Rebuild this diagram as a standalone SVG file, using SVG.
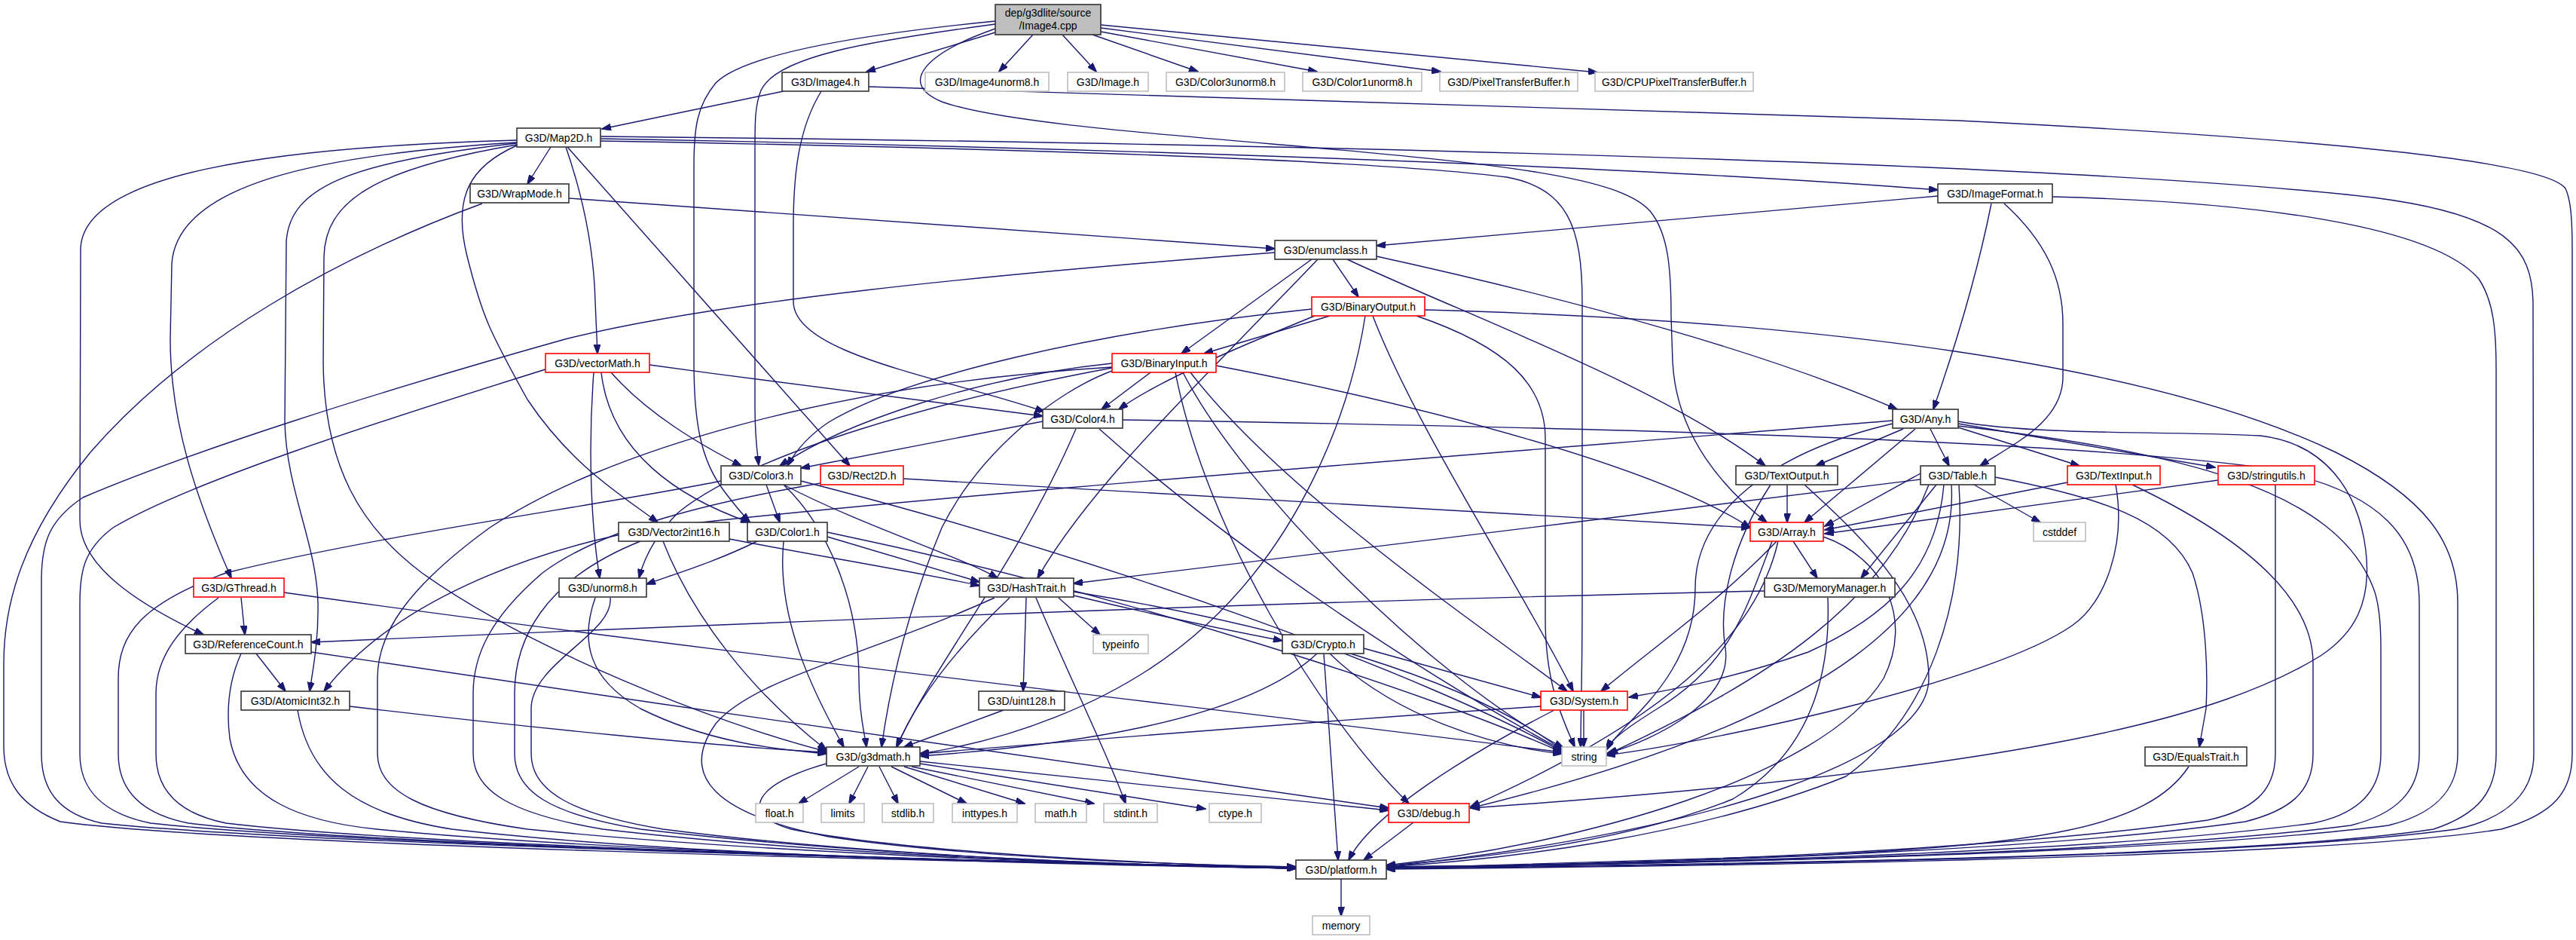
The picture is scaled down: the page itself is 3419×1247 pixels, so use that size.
<svg xmlns="http://www.w3.org/2000/svg" width="3419" height="1247" viewBox="0 0 3419 1247">
<defs>
<marker id="a" markerWidth="13" markerHeight="9" refX="12" refY="4.5" orient="auto" markerUnits="userSpaceOnUse">
<path d="M0,0 L13,4.5 L0,9 z" fill="#191970" stroke="#191970" stroke-width="1"/>
</marker>
<style>
.b{fill:#fff;stroke:#333;stroke-width:1.6}
.r{fill:#fff;stroke:#ff0000;stroke-width:1.6}
.g{fill:#fff;stroke:#bfbfbf;stroke-width:1.6}
.root{fill:#bfbfbf;stroke:#333;stroke-width:1.6}
text{font-family:"Liberation Sans",Arial,sans-serif;font-size:14px;fill:#000;text-anchor:middle}
#edges path{fill:none;stroke:#191970;stroke-width:1.4;marker-end:url(#a)}
</style>
</defs>
<rect width="3419" height="1247" fill="#fff"/>
<g id="edges">
<path d="M1321,43 L1150,95"/>
<path d="M1371,46 L1326,95"/>
<path d="M1410,46 L1455,95"/>
<path d="M1450,46 L1590,95"/>
<path d="M1461,42 L1748,95"/>
<path d="M1461,37 L1912,95"/>
<path d="M1461,33 L2120,96"/>
<path d="M1321,32 C1150,55 1030,75 1010,120 C1002,140 1002,160 1002,200 L1002,540 C1002,580 1005,600 1007,617"/>
<path d="M1321,28 C1150,45 990,70 950,110 C925,140 921,170 921,220 L921,480 C921,560 930,610 960,650 C975,670 985,682 995,692"/>
<path d="M1321,38 C1230,70 1190,110 1250,135 C1320,160 1500,175 1700,192 C2000,218 2150,235 2190,280 C2215,310 2218,360 2218,420 L2220,480 C2225,580 2290,650 2345,693"/>
<path d="M1040,121 L799,171"/>
<path d="M1090,121 C1060,170 1053,230 1053,300 L1053,400 C1053,470 1250,500 1386,546"/>
<path d="M1153,115 C1400,125 2000,140 2600,160 C3100,185 3380,215 3405,250 C3412,265 3414,290 3414,330 L3414,1000 C3414,1050 3390,1080 3320,1100 C3100,1135 2400,1148 1840,1153"/>
<path d="M731,195 L700,244"/>
<path d="M751,195 C770,250 788,320 790,400 L793,469"/>
<path d="M753,195 L1128,618"/>
<path d="M686,193 C625,220 600,260 620,340 C640,420 650,440 700,530 C760,620 830,660 873,693"/>
<path d="M686,189 C420,205 235,245 228,350 L226,450 C226,560 260,660 307,767"/>
<path d="M686,186 C360,195 110,230 107,330 L106,690 C106,750 180,800 270,842"/>
<path d="M686,190 C460,215 385,250 380,320 L378,560 C380,650 420,720 422,800 C423,850 415,890 411,917"/>
<path d="M686,192 C490,225 432,270 430,340 L429,480 C430,620 480,700 560,760 C700,860 950,960 1097,997"/>
<path d="M797,184 C1300,193 2100,215 2572,252"/>
<path d="M797,181 C1500,188 2700,210 3150,262 C3330,285 3360,330 3362,400 L3363,1000 C3363,1050 3330,1085 3260,1100 C3000,1135 2400,1147 1840,1152"/>
<path d="M797,187 C1300,196 1800,210 2000,235 C2080,250 2100,300 2100,400 L2100,800 C2100,900 2098,950 2098,991"/>
<path d="M755,263 L1692,330"/>
<path d="M640,270 C450,340 250,450 120,600 C30,710 5,800 5,880 L5,990 C5,1040 30,1070 80,1090 C300,1120 1200,1143 1720,1150"/>
<path d="M2572,260 L1827,326"/>
<path d="M2643,270 C2625,360 2595,460 2566,543"/>
<path d="M2660,270 C2715,320 2738,370 2738,430 L2738,500 C2738,560 2670,590 2628,618"/>
<path d="M2724,261 C3000,268 3230,300 3290,370 C3310,400 3313,440 3313,490 L3313,1000 C3313,1050 3290,1080 3230,1100 C3000,1135 2400,1146 1840,1151"/>
<path d="M1741,344 L1568,469"/>
<path d="M1749,344 C1600,500 1450,640 1377,767"/>
<path d="M1769,344 L1803,394"/>
<path d="M1788,344 C1950,420 2200,510 2343,618"/>
<path d="M1827,340 C2100,400 2350,470 2518,543"/>
<path d="M1692,335 C1300,365 950,400 750,450 C500,520 250,600 110,660 C65,690 55,720 55,770 L55,1000 C55,1050 80,1080 135,1092 C400,1120 1300,1142 1720,1152"/>
<path d="M1765,419 L1598,469"/>
<path d="M1745,419 C1620,470 1530,510 1485,543"/>
<path d="M1741,410 C1450,440 1200,500 1100,560 C1070,580 1055,600 1045,618"/>
<path d="M1812,419 C1790,560 1720,720 1600,830 C1480,940 1320,985 1221,1000"/>
<path d="M1822,419 C1880,570 2020,780 2088,917"/>
<path d="M1880,419 C2000,460 2050,510 2051,580 L2051,820 C2051,910 2075,955 2090,991"/>
<path d="M1891,411 C2400,425 2850,480 3100,600 C3220,660 3262,720 3262,800 L3262,1000 C3262,1050 3230,1080 3170,1095 C2900,1130 2300,1146 1840,1150"/>
<path d="M1527,494 L1462,543"/>
<path d="M1476,482 C1300,500 1120,560 1035,618"/>
<path d="M1476,488 C1250,530 1000,600 900,680 C870,710 855,740 848,767"/>
<path d="M1476,492 C1400,520 1300,600 1250,700 C1200,820 1180,920 1170,991"/>
<path d="M1614,485 C1900,540 2200,620 2323,700"/>
<path d="M1580,494 C1700,650 1950,820 2080,917"/>
<path d="M1570,494 C1650,650 1900,900 2075,992"/>
<path d="M1560,494 C1600,700 1750,950 1870,1066"/>
<path d="M1476,487 C1100,510 800,600 650,700 C540,780 501,840 501,900 L501,1000 C501,1050 560,1080 700,1100 C1000,1130 1400,1145 1720,1152"/>
<path d="M1384,559 L1063,621"/>
<path d="M1428,569 C1350,750 1240,880 1190,991"/>
<path d="M1459,569 C1650,740 1900,900 2073,995"/>
<path d="M1490,557 C2000,565 2700,580 3000,620 C3170,650 3211,720 3211,800 L3211,1000 C3211,1050 3180,1080 3120,1095 C2850,1130 2300,1146 1840,1150"/>
<path d="M2526,569 L2410,618"/>
<path d="M2542,569 L2395,693"/>
<path d="M2562,569 L2587,618"/>
<path d="M2599,567 L2760,618"/>
<path d="M2599,562 L2940,620"/>
<path d="M2599,565 C2900,600 3100,650 3150,780 C3158,800 3160,830 3160,860 L3160,1000 C3160,1050 3130,1080 3070,1092 C2800,1128 2300,1146 1840,1150"/>
<path d="M2599,559 C2700,578 2900,572 3000,578 C3085,588 3130,650 3140,730 C3148,800 3125,840 3080,870 C2950,950 2700,1020 1952,1072"/>
<path d="M2512,562 C2350,600 2250,680 2250,780 C2250,900 2150,960 2132,995"/>
<path d="M2512,558 C2000,600 1200,660 870,700 C700,730 520,800 430,917"/>
<path d="M2549,636 C2200,680 1700,740 1425,774"/>
<path d="M2549,628 L2422,698"/>
<path d="M2570,643 L2470,767"/>
<path d="M2620,643 L2708,693"/>
<path d="M2648,633 C2790,660 2880,690 2910,760 C2930,820 2930,900 2928,940 L2919,991"/>
<path d="M2580,643 C2570,760 2500,820 2400,865 C2300,900 2220,915 2162,925"/>
<path d="M2560,643 C2500,800 2350,900 2135,1000"/>
<path d="M2590,643 C2600,800 2450,950 1952,1072"/>
<path d="M2600,643 C2610,800 2560,950 2450,1030 C2250,1110 2000,1140 1840,1150"/>
<path d="M2372,643 L2372,693"/>
<path d="M2350,643 C2300,720 2280,800 2290,860 C2300,930 2200,980 2132,1000"/>
<path d="M2395,643 C2480,720 2560,800 2560,900 C2560,1000 2300,1100 1840,1150"/>
<path d="M2744,640 L2422,703"/>
<path d="M2808,643 C2822,720 2795,800 2750,830 C2650,900 2300,980 2132,1002"/>
<path d="M2830,643 C2950,700 3070,780 3070,880 L3070,1000 C3070,1050 3040,1075 2980,1090 C2700,1130 2200,1146 1840,1151"/>
<path d="M2944,637 L2422,708"/>
<path d="M3020,643 L3020,1000 C3020,1050 2990,1075 2930,1088 C2650,1128 2200,1146 1840,1151"/>
<path d="M2380,718 L2412,767"/>
<path d="M2358,718 C2280,800 2180,870 2125,917"/>
<path d="M2352,718 C2320,800 2300,880 2200,940 C2160,965 2140,980 2132,993"/>
<path d="M2360,718 C2330,850 2200,960 1952,1070"/>
<path d="M2420,712 C2500,740 2540,820 2500,900 C2420,1030 2100,1120 1840,1148"/>
<path d="M2342,784 C1600,800 800,835 413,852"/>
<path d="M2426,793 C2430,900 2400,1000 2300,1060 C2150,1120 1950,1140 1840,1148"/>
<path d="M1425,790 C1550,820 1650,840 1702,850"/>
<path d="M1405,793 L1460,842"/>
<path d="M1362,793 L1358,917"/>
<path d="M1340,793 C1280,850 1220,920 1190,991"/>
<path d="M1375,793 C1420,900 1470,1000 1494,1066"/>
<path d="M1320,793 C1150,870 1000,900 950,960 C900,1030 950,1080 1100,1110 C1300,1140 1600,1148 1720,1150"/>
<path d="M1425,785 C1700,830 1950,900 2073,995"/>
<path d="M1810,860 L2045,925"/>
<path d="M1765,867 C1850,950 1980,990 2073,1000"/>
<path d="M1748,867 C1650,960 1400,990 1221,1003"/>
<path d="M1757,867 L1776,1141"/>
<path d="M1332,942 L1200,991"/>
<path d="M2045,937 C1700,960 1400,985 1221,1000"/>
<path d="M2102,942 L2102,991"/>
<path d="M2063,942 C1950,1000 1820,1080 1790,1141"/>
<path d="M1140,1017 L1060,1066"/>
<path d="M1152,1017 L1127,1066"/>
<path d="M1167,1017 L1192,1066"/>
<path d="M1183,1017 L1283,1066"/>
<path d="M1200,1017 L1360,1066"/>
<path d="M1210,1017 L1452,1066"/>
<path d="M1221,1013 L1600,1073"/>
<path d="M1221,1010 C1500,1040 1700,1060 1843,1075"/>
<path d="M1097,1013 C1000,1040 980,1080 1050,1100 C1200,1130 1500,1145 1720,1151"/>
<path d="M1876,1091 L1810,1141"/>
<path d="M1780,1166 L1780,1215"/>
<path d="M2905,1017 C2850,1100 2700,1120 2400,1135 C2100,1145 1900,1150 1840,1152"/>
<path d="M1017,643 L1035,693"/>
<path d="M1040,643 C1150,700 1280,740 1324,767"/>
<path d="M1040,643 C1100,700 1140,800 1140,900 C1140,950 1148,975 1150,991"/>
<path d="M1063,638 C1500,750 1900,900 2073,997"/>
<path d="M957,638 C800,670 500,710 300,760 C190,800 157,840 157,900 L157,1000 C157,1050 190,1080 250,1092 C500,1122 1300,1143 1720,1151"/>
<path d="M1199,635 C1600,660 2000,680 2323,700"/>
<path d="M1089,641 C950,665 800,700 720,760 C650,820 628,870 628,920 L628,1000 C628,1050 680,1080 800,1100 C1100,1135 1500,1148 1720,1152"/>
<path d="M968,715 C1100,740 1250,765 1300,777"/>
<path d="M880,718 C920,820 1000,920 1097,995"/>
<path d="M850,718 C720,770 683,850 683,920 L683,1000 C683,1050 730,1080 850,1100 C1150,1135 1500,1148 1720,1152"/>
<path d="M1098,712 L1300,772"/>
<path d="M1005,718 C950,745 900,760 858,775"/>
<path d="M1040,718 C1030,820 1080,920 1120,991"/>
<path d="M1098,706 C1500,790 1900,920 2073,998"/>
<path d="M790,793 C770,850 780,900 850,940 C950,990 1050,995 1097,1000"/>
<path d="M810,793 C815,840 705,880 705,940 L705,1000 C705,1050 760,1080 880,1100 C1150,1135 1500,1148 1720,1152"/>
<path d="M320,793 L325,842"/>
<path d="M377,786 C900,860 1700,950 2073,998"/>
<path d="M290,793 C240,830 207,870 207,920 L207,1000 C207,1050 240,1080 300,1092 C550,1122 1300,1143 1720,1151"/>
<path d="M340,867 L379,917"/>
<path d="M413,865 C900,940 1500,1020 1843,1072"/>
<path d="M320,867 C305,900 300,940 305,980 C320,1060 400,1090 500,1100 C800,1130 1400,1146 1720,1152"/>
<path d="M464,937 C700,965 950,990 1097,998"/>
<path d="M395,942 C410,1030 470,1080 600,1100 C900,1135 1400,1147 1720,1152"/>
<path d="M811,494 C860,550 930,590 984,618"/>
<path d="M788,494 C780,600 785,700 796,767"/>
<path d="M798,494 C810,600 900,660 995,693"/>
<path d="M862,484 C1050,510 1250,535 1384,552"/>
<path d="M724,490 C500,560 250,640 150,700 C110,730 106,760 106,800 L106,1000 C106,1050 140,1080 200,1092 C450,1120 1300,1143 1720,1151"/>
</g>
<g id="n_root"><rect class="root" x="1321" y="6" width="140" height="40"/><text x="1391" y="22">dep/g3dlite/source</text><text x="1391" y="39">/Image4.cpp</text></g>
<g id="n_Image4h"><rect class="b" x="1038" y="96" width="115" height="25"/><text x="1095.5" y="113.5">G3D/Image4.h</text></g>
<g id="n_Image4unorm8"><rect class="g" x="1228" y="96" width="164" height="25"/><text x="1310" y="113.5">G3D/Image4unorm8.h</text></g>
<g id="n_Image"><rect class="g" x="1417" y="96" width="107" height="25"/><text x="1470.5" y="113.5">G3D/Image.h</text></g>
<g id="n_Color3unorm8"><rect class="g" x="1548" y="96" width="157" height="25"/><text x="1626.5" y="113.5">G3D/Color3unorm8.h</text></g>
<g id="n_Color1unorm8"><rect class="g" x="1729" y="96" width="158" height="25"/><text x="1808" y="113.5">G3D/Color1unorm8.h</text></g>
<g id="n_PixelTransferBuffer"><rect class="g" x="1911" y="96" width="183" height="25"/><text x="2002.5" y="113.5">G3D/PixelTransferBuffer.h</text></g>
<g id="n_CPUPixelTransferBuffer"><rect class="g" x="2117" y="96" width="210" height="25"/><text x="2222" y="113.5">G3D/CPUPixelTransferBuffer.h</text></g>
<g id="n_Map2D"><rect class="b" x="686" y="170" width="111" height="25"/><text x="741.5" y="187.5">G3D/Map2D.h</text></g>
<g id="n_WrapMode"><rect class="b" x="624" y="244" width="131" height="25"/><text x="689.5" y="261.5">G3D/WrapMode.h</text></g>
<g id="n_ImageFormat"><rect class="b" x="2572" y="244" width="152" height="25"/><text x="2648" y="261.5">G3D/ImageFormat.h</text></g>
<g id="n_enumclass"><rect class="b" x="1692" y="319" width="135" height="25"/><text x="1759.5" y="336.5">G3D/enumclass.h</text></g>
<g id="n_BinaryOutput"><rect class="r" x="1741" y="394" width="150" height="25"/><text x="1816" y="411.5">G3D/BinaryOutput.h</text></g>
<g id="n_vectorMath"><rect class="r" x="724" y="469" width="138" height="25"/><text x="793" y="486.5">G3D/vectorMath.h</text></g>
<g id="n_BinaryInput"><rect class="r" x="1476" y="469" width="138" height="25"/><text x="1545" y="486.5">G3D/BinaryInput.h</text></g>
<g id="n_Color4"><rect class="b" x="1384" y="543" width="106" height="25"/><text x="1437" y="560.5">G3D/Color4.h</text></g>
<g id="n_Any"><rect class="b" x="2512" y="543" width="87" height="25"/><text x="2555.5" y="560.5">G3D/Any.h</text></g>
<g id="n_Color3"><rect class="b" x="957" y="618" width="106" height="25"/><text x="1010" y="635.5">G3D/Color3.h</text></g>
<g id="n_Rect2D"><rect class="r" x="1089" y="618" width="110" height="25"/><text x="1144" y="635.5">G3D/Rect2D.h</text></g>
<g id="n_TextOutput"><rect class="b" x="2304" y="618" width="135" height="25"/><text x="2371.5" y="635.5">G3D/TextOutput.h</text></g>
<g id="n_Table"><rect class="b" x="2549" y="618" width="99" height="25"/><text x="2598.5" y="635.5">G3D/Table.h</text></g>
<g id="n_TextInput"><rect class="r" x="2744" y="618" width="123" height="25"/><text x="2805.5" y="635.5">G3D/TextInput.h</text></g>
<g id="n_stringutils"><rect class="r" x="2944" y="618" width="128" height="25"/><text x="3008" y="635.5">G3D/stringutils.h</text></g>
<g id="n_Vector2int16"><rect class="b" x="821" y="693" width="147" height="25"/><text x="894.5" y="710.5">G3D/Vector2int16.h</text></g>
<g id="n_Color1"><rect class="b" x="992" y="693" width="106" height="25"/><text x="1045" y="710.5">G3D/Color1.h</text></g>
<g id="n_Array"><rect class="r" x="2323" y="693" width="97" height="25"/><text x="2371.5" y="710.5">G3D/Array.h</text></g>
<g id="n_cstddef"><rect class="g" x="2699" y="693" width="69" height="25"/><text x="2733.5" y="710.5">cstddef</text></g>
<g id="n_GThread"><rect class="r" x="257" y="767" width="120" height="25"/><text x="317" y="784.5">G3D/GThread.h</text></g>
<g id="n_unorm8"><rect class="b" x="742" y="767" width="116" height="25"/><text x="800" y="784.5">G3D/unorm8.h</text></g>
<g id="n_HashTrait"><rect class="b" x="1300" y="767" width="125" height="25"/><text x="1362.5" y="784.5">G3D/HashTrait.h</text></g>
<g id="n_MemoryManager"><rect class="b" x="2342" y="767" width="173" height="25"/><text x="2428.5" y="784.5">G3D/MemoryManager.h</text></g>
<g id="n_ReferenceCount"><rect class="b" x="246" y="842" width="167" height="25"/><text x="329.5" y="859.5">G3D/ReferenceCount.h</text></g>
<g id="n_typeinfo"><rect class="g" x="1451" y="842" width="73" height="25"/><text x="1487.5" y="859.5">typeinfo</text></g>
<g id="n_Crypto"><rect class="b" x="1702" y="842" width="108" height="25"/><text x="1756" y="859.5">G3D/Crypto.h</text></g>
<g id="n_AtomicInt32"><rect class="b" x="320" y="917" width="144" height="25"/><text x="392" y="934.5">G3D/AtomicInt32.h</text></g>
<g id="n_uint128"><rect class="b" x="1299" y="917" width="114" height="25"/><text x="1356" y="934.5">G3D/uint128.h</text></g>
<g id="n_System"><rect class="r" x="2045" y="917" width="115" height="25"/><text x="2102.5" y="934.5">G3D/System.h</text></g>
<g id="n_g3dmath"><rect class="b" x="1097" y="991" width="124" height="25"/><text x="1159" y="1008.5">G3D/g3dmath.h</text></g>
<g id="n_string"><rect class="g" x="2073" y="991" width="59" height="25"/><text x="2102.5" y="1008.5">string</text></g>
<g id="n_EqualsTrait"><rect class="b" x="2847" y="991" width="135" height="25"/><text x="2914.5" y="1008.5">G3D/EqualsTrait.h</text></g>
<g id="n_float"><rect class="g" x="1003" y="1066" width="63" height="25"/><text x="1034.5" y="1083.5">float.h</text></g>
<g id="n_limits"><rect class="g" x="1090" y="1066" width="57" height="25"/><text x="1118.5" y="1083.5">limits</text></g>
<g id="n_stdlib"><rect class="g" x="1171" y="1066" width="68" height="25"/><text x="1205" y="1083.5">stdlib.h</text></g>
<g id="n_inttypes"><rect class="g" x="1264" y="1066" width="86" height="25"/><text x="1307" y="1083.5">inttypes.h</text></g>
<g id="n_math"><rect class="g" x="1374" y="1066" width="68" height="25"/><text x="1408" y="1083.5">math.h</text></g>
<g id="n_stdint"><rect class="g" x="1465" y="1066" width="71" height="25"/><text x="1500.5" y="1083.5">stdint.h</text></g>
<g id="n_ctype"><rect class="g" x="1605" y="1066" width="69" height="25"/><text x="1639.5" y="1083.5">ctype.h</text></g>
<g id="n_debug"><rect class="r" x="1843" y="1066" width="107" height="25"/><text x="1896.5" y="1083.5">G3D/debug.h</text></g>
<g id="n_platform"><rect class="b" x="1720" y="1141" width="120" height="25"/><text x="1780" y="1158.5">G3D/platform.h</text></g>
<g id="n_memory"><rect class="g" x="1742" y="1215" width="76" height="25"/><text x="1780" y="1232.5">memory</text></g>
</svg>
